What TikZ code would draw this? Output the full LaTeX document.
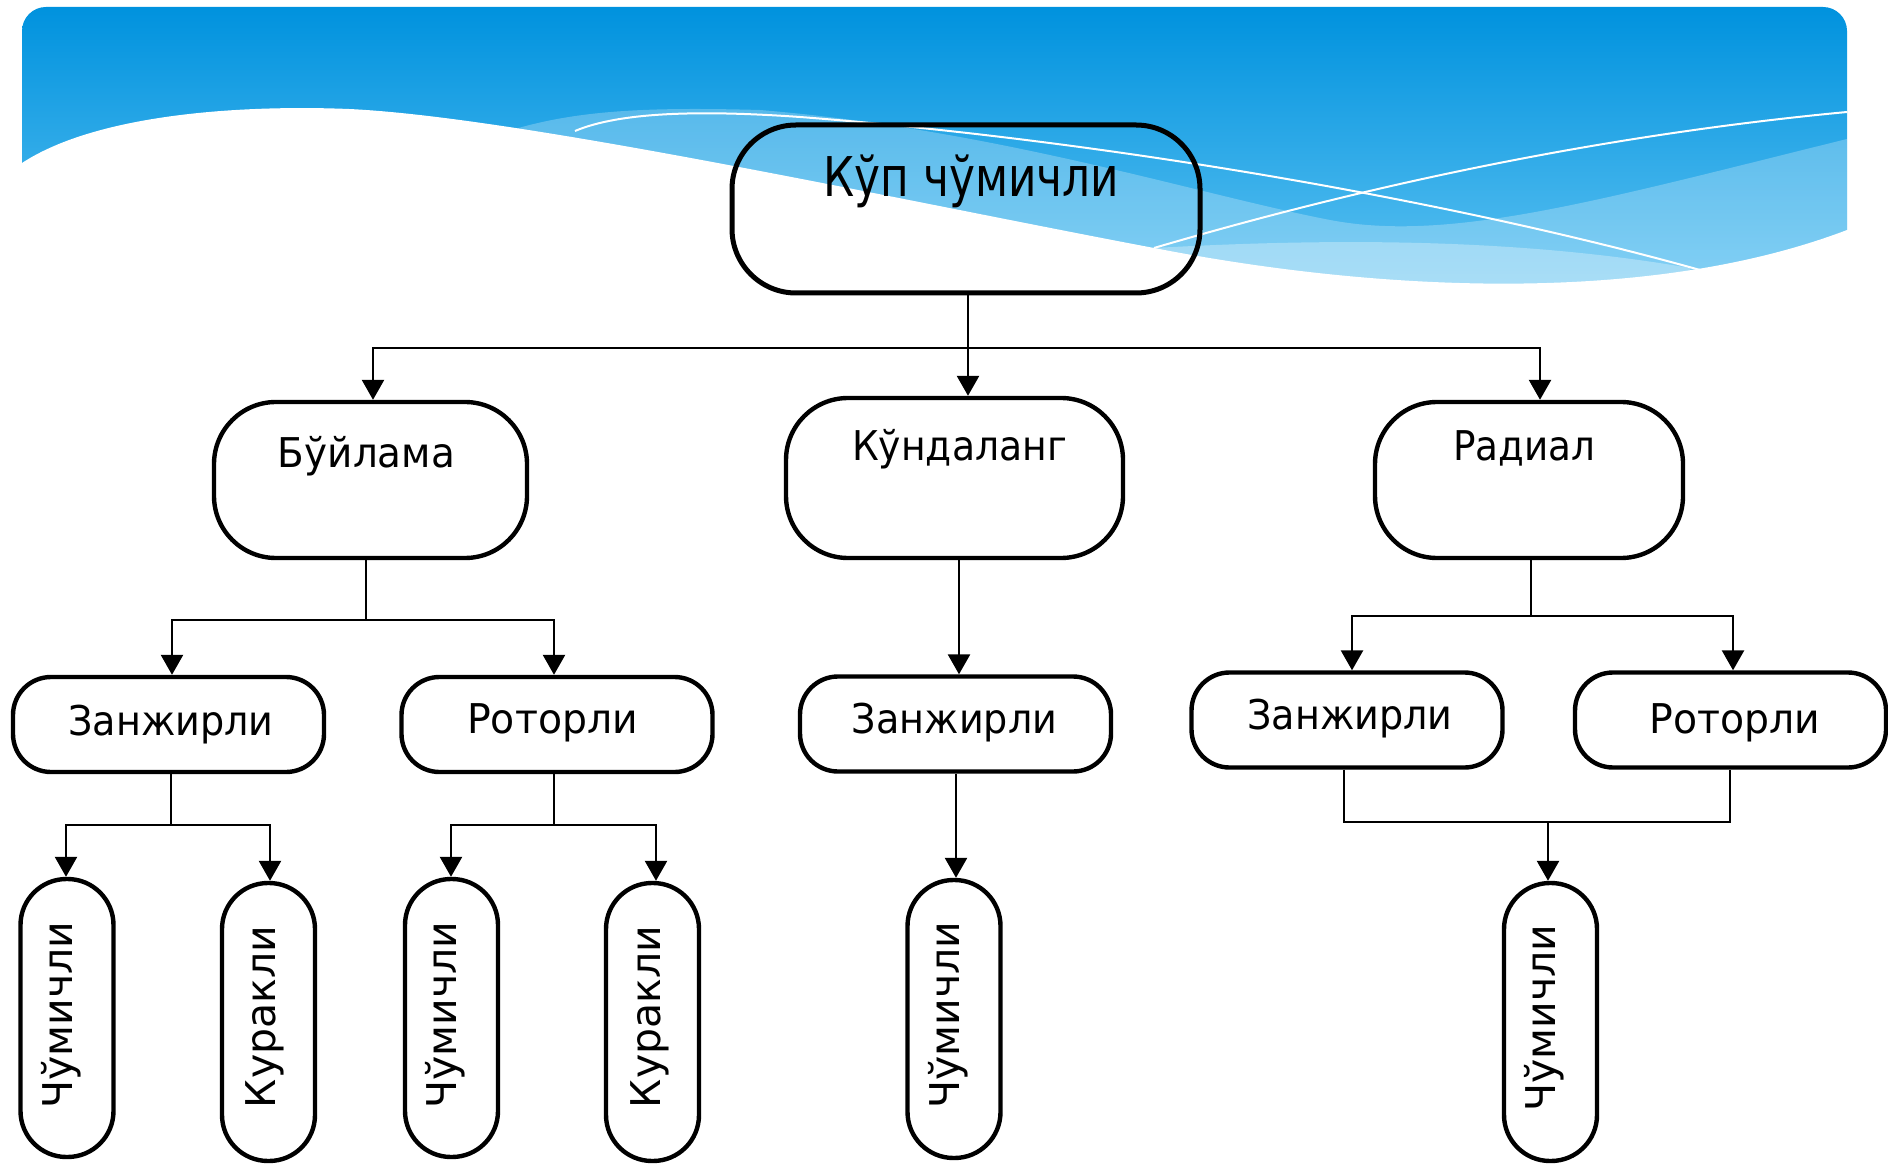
\documentclass[tikz,border=0pt]{standalone}
\usepackage{fontspec}
\usepackage{graphicx}
\setmainfont{DejaVu Sans}
\usetikzlibrary{arrows.meta}
\definecolor{bannertop}{RGB}{0,146,222}
\definecolor{bannerbot}{RGB}{95,195,242}
\tikzset{
 box/.style={draw=black, rectangle, inner sep=0pt, line width=2.2pt},
 lone/.style={box, line width=2.5pt, minimum width=234pt, minimum height=84pt, rounded corners=32pt},
 ltwo/.style={box, minimum height=78pt, rounded corners=31pt},
 lthree/.style={box, minimum width=155.5pt, minimum height=47.5pt, rounded corners=19pt},
 lfour/.style={box, minimum width=46.5pt, minimum height=139pt, rounded corners=23pt},
 conn/.style={line width=1.3pt, draw=black, line join=miter},
 arr/.style={conn, -{Triangle[length=10pt,width=11pt]}},
 lbl/.style={inner sep=0pt, anchor=base, font=\fontsize{20.5}{24}\selectfont},
 wline/.style={draw=white, line width=1pt},
}
\begin{document}
\begin{tikzpicture}[x=0.5pt,y=-0.5pt]
\useasboundingbox (0,0) rectangle (1888,1165);
% banner background
\shade[top color=bannertop, bottom color=bannerbot, rounded corners=12pt] (22,7) rectangle (1847,300);
\fill[white, opacity=0.25] (515,129) .. controls (580,110) and (650,107) .. (760,110) .. controls (1000,130) and (1200,195) .. (1330,220) .. controls (1450,243) and (1600,200) .. (1847,139) -- (1847,300) -- (515,300) -- cycle;
\fill[white, opacity=0.3] (1154,248) .. controls (1300,240) and (1500,235) .. (1690,268) -- (1690,300) -- (1154,300) -- cycle;
\fill[white] (0,163) -- (22,163) .. controls (100,112) and (250,105) .. (349,109) .. controls (520,117) and (900,200) .. (1154,248) .. controls (1380,292) and (1650,305) .. (1847,230) -- (1888,230) -- (1888,320) -- (0,320) -- cycle;
\draw[wline] (575,131) .. controls (620,112) and (700,110) .. (800,117) .. controls (1100,140) and (1450,200) .. (1700,270);
\draw[wline] (1154,248) .. controls (1300,205) and (1550,140) .. (1847,112);

% nodes
\node[lone] (top) at (966,209) {};
\node[ltwo, minimum width=156.5pt] (b) at (370.5,480) {};
\node[ltwo, minimum width=168.5pt, minimum height=80pt] (k) at (954.5,478) {};
\node[ltwo, minimum width=154pt] (r) at (1529,480) {};

\node[lthree] (zl) at (168.5,724.5) {};
\node[lthree] (rl) at (557,724.5) {};
\node[lthree] (zm) at (955.5,724) {};
\node[lthree] (zr) at (1347,720) {};
\node[lthree] (rr) at (1730.5,720) {};

\node[lfour] (c1) at (67,1018) {};
\node[lfour] (k1) at (268.5,1022) {};
\node[lfour] (c2) at (451.5,1018) {};
\node[lfour] (k2) at (652.5,1022) {};
\node[lfour] (c3) at (954,1019) {};
\node[lfour] (c4) at (1550.5,1022) {};

% labels
\node[lbl, font=\fontsize{27.4}{32}\selectfont] (t0) at (971.5,197) {\scalebox{0.8}[1]{Кўп чўмичли}};
\node[lbl] (t1) at (366.5,467) {\scalebox{0.95}[1]{Бўйлама}};
\node[lbl] (t2) at (959.5,460) {\scalebox{0.92}[1]{Кўндаланг}};
\node[lbl] (t3) at (1524.5,460) {\scalebox{0.91}[1]{Радиал}};
\node[lbl] (t4) at (171,735) {\scalebox{0.93}[1]{Занжирли}};
\node[lbl] (t5) at (552.5,733) {\scalebox{0.96}[1]{Роторли}};
\node[lbl] (t6) at (954.5,733) {\scalebox{0.93}[1]{Занжирли}};
\node[lbl] (t7) at (1350,729) {\scalebox{0.93}[1]{Занжирли}};
\node[lbl] (t8) at (1735,733) {\scalebox{0.96}[1]{Роторли}};
\node[lbl, rotate=90] (t9) at (72,1015) {Чўмичли};
\node[lbl, rotate=90] (t10) at (275,1017) {Куракли};
\node[lbl, rotate=90] (t11) at (456,1015) {Чўмичли};
\node[lbl, rotate=90] (t12) at (660,1017) {Куракли};
\node[lbl, rotate=90] (t13) at (959,1015) {Чўмичли};
\node[lbl, rotate=90] (t14) at (1555,1018) {Чўмичли};

% connectors level 1 -> 2
\coordinate (j0) at (968,348);
\coordinate (j0l) at (373,348);
\coordinate (j0r) at (1540,348);
\draw[arr] (top.south -| j0) -- (k.north -| j0);
\draw[arr] (j0) -- (j0l) -- (b.north -| j0l);
\draw[arr] (j0) -- (j0r) -- (r.north -| j0r);

% level 2 -> 3
\coordinate (j1) at (366,620);
\coordinate (j1l) at (172,620);
\coordinate (j1r) at (554,620);
\draw[conn] (b.south -| j1) -- (j1);
\draw[arr] (j1) -- (j1l) -- (zl.north -| j1l);
\draw[arr] (j1) -- (j1r) -- (rl.north -| j1r);
\coordinate (j2) at (959,620);
\draw[arr] (k.south -| j2) -- (zm.north -| j2);
\coordinate (j3) at (1531,616);
\coordinate (j3l) at (1352,616);
\coordinate (j3r) at (1733,616);
\draw[conn] (r.south -| j3) -- (j3);
\draw[arr] (j3) -- (j3l) -- (zr.north -| j3l);
\draw[arr] (j3) -- (j3r) -- (rr.north -| j3r);

% level 3 -> 4
\coordinate (j4) at (171,825);
\coordinate (j4l) at (66,825);
\coordinate (j4r) at (270,825);
\draw[conn] (zl.south -| j4) -- (j4);
\draw[arr] (j4) -- (j4l) -- (c1.north -| j4l);
\draw[arr] (j4) -- (j4r) -- (k1.north -| j4r);
\coordinate (j5) at (554,825);
\coordinate (j5l) at (451,825);
\coordinate (j5r) at (656,825);
\draw[conn] (rl.south -| j5) -- (j5);
\draw[arr] (j5) -- (j5l) -- (c2.north -| j5l);
\draw[arr] (j5) -- (j5r) -- (k2.north -| j5r);
\coordinate (j6) at (956,820);
\draw[arr] (zm.south -| j6) -- (c3.north -| j6);
\coordinate (j7) at (1548,822);
\coordinate (j7l) at (1344,822);
\coordinate (j7r) at (1730,822);
\draw[conn] (zr.south -| j7l) -- (j7l) -- (j7r) -- (rr.south -| j7r);
\draw[arr] (j7) -- (c4.north -| j7);
\end{tikzpicture}
\end{document}
